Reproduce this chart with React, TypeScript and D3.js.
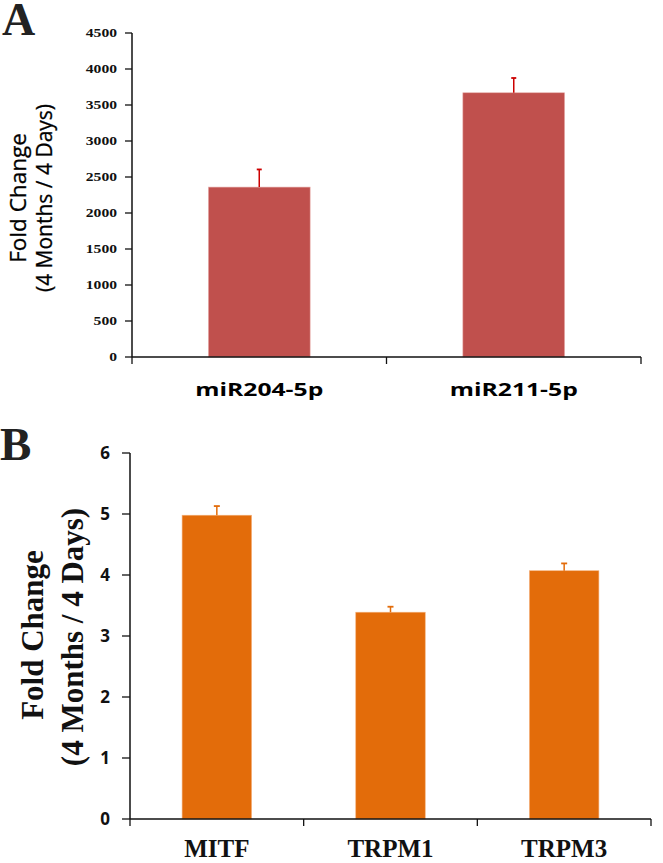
import React from "react";
import * as d3 from "d3";

const catsA = ["miR204-5p", "miR211-5p"];
const valsA = [2360, 3670];
const errA = [245, 205];
const ticksA = [0, 500, 1000, 1500, 2000, 2500, 3000, 3500, 4000, 4500];

const catsB = ["MITF", "TRPM1", "TRPM3"];
const valsB = [4.98, 3.39, 4.07];
const errB = [0.15, 0.09, 0.12];
const ticksB = [0, 1, 2, 3, 4, 5, 6];

const W = 663;
const H = 863;

export default function App() {
  const xA = d3.scaleBand<string>().domain(catsA).range([132, 641]).paddingInner(0.6).paddingOuter(0.3);
  const yA = d3.scaleLinear().domain([0, 4500]).range([357, 33]);
  const xB = d3.scaleBand<string>().domain(catsB).range([130, 651]).paddingInner(0.6).paddingOuter(0.3);
  const yB = d3.scaleLinear().domain([0, 6]).range([819, 453]);

  const stepA = (641 - 132) / catsA.length;
  const stepB = (651 - 130) / catsB.length;

  const serif = "'Liberation Serif', 'Times New Roman', serif";
  const sans = "'Open Sans', 'Liberation Sans', sans-serif";

  return (
    <svg width={W} height={H} style={{ position: "absolute", left: 0, top: 0, background: "#fff" }}>
      {/* Panel letters */}
      <text x={2} y={35} fontFamily={serif} fontWeight="bold" fontSize={46} fill="#222">A</text>
      <text x={0} y={460} fontFamily={serif} fontWeight="bold" fontSize={47} fill="#222">B</text>

      {/* ---------- Panel A ---------- */}
      {catsA.map((c, i) => {
        const x0 = xA(c)!;
        const bw = xA.bandwidth();
        const cx = x0 + bw / 2;
        return (
          <g key={c}>
            <rect x={x0} y={yA(valsA[i])} width={bw} height={yA(0) - yA(valsA[i])} fill="#C0504D" stroke="#E8B0AE" strokeWidth={0.6} />
            <line x1={cx} x2={cx} y1={yA(valsA[i])} y2={yA(valsA[i] + errA[i])} stroke="#CC0000" strokeWidth={1.5} />
            <line x1={cx - 2.5} x2={cx + 2.5} y1={yA(valsA[i] + errA[i])} y2={yA(valsA[i] + errA[i])} stroke="#CC0000" strokeWidth={1.8} />
            <text x={cx} y={396} textAnchor="middle" fontFamily={sans} fontWeight="bold" fontSize={17} textLength={128} lengthAdjust="spacingAndGlyphs" fill="#000">{c}</text>
          </g>
        );
      })}
      {/* A axes */}
      <line x1={132} x2={132} y1={yA(4500)} y2={yA(0)} stroke="#111" strokeWidth={1.5} />
      <line x1={132} x2={641} y1={yA(0)} y2={yA(0)} stroke="#111" strokeWidth={1.5} />
      {ticksA.map((t) => (
        <g key={t}>
          <line x1={125} x2={132} y1={yA(t)} y2={yA(t)} stroke="#111" strokeWidth={1.3} />
          <text x={117} y={yA(t) + 4} textAnchor="end" fontFamily={serif} fontWeight="bold" fontSize={12} textLength={String(t).length * 7.8} lengthAdjust="spacingAndGlyphs" fill="#111">{t}</text>
        </g>
      ))}
      {d3.range(catsA.length + 1).map((i) => (
        <line key={i} x1={132 + i * stepA} x2={132 + i * stepA} y1={yA(0)} y2={yA(0) + 7} stroke="#111" strokeWidth={1.3} />
      ))}
      <text transform="translate(26,198) rotate(-90)" textAnchor="middle" fontFamily={sans} fontSize={22.5} fill="#000" stroke="#000" strokeWidth={0.3}>Fold Change</text>
      <text transform="translate(52,198) rotate(-90)" textAnchor="middle" fontFamily={sans} fontSize={21} fill="#000" stroke="#000" strokeWidth={0.3}>(4 Months / 4 Days)</text>

      {/* ---------- Panel B ---------- */}
      {catsB.map((c, i) => {
        const x0 = xB(c)!;
        const bw = xB.bandwidth();
        const cx = x0 + bw / 2;
        return (
          <g key={c}>
            <rect x={x0} y={yB(valsB[i])} width={bw} height={yB(0) - yB(valsB[i])} fill="#E36C0A" stroke="#F4B07A" strokeWidth={0.6} />
            <line x1={cx} x2={cx} y1={yB(valsB[i])} y2={yB(valsB[i] + errB[i])} stroke="#E36C0A" strokeWidth={1.5} />
            <line x1={cx - 3} x2={cx + 3} y1={yB(valsB[i] + errB[i])} y2={yB(valsB[i] + errB[i])} stroke="#E36C0A" strokeWidth={1.8} />
            <text x={cx} y={857} textAnchor="middle" fontFamily={serif} fontWeight="bold" fontSize={25} fill="#111">{c}</text>
          </g>
        );
      })}
      <line x1={130} x2={130} y1={yB(6)} y2={yB(0)} stroke="#111" strokeWidth={1.5} />
      <line x1={130} x2={651} y1={yB(0)} y2={yB(0)} stroke="#111" strokeWidth={1.5} />
      {ticksB.map((t) => (
        <g key={t}>
          <line x1={122} x2={130} y1={yB(t)} y2={yB(t)} stroke="#111" strokeWidth={1.3} />
          <text x={110} y={yB(t) + 6} textAnchor="end" fontFamily={sans} fontWeight="bold" fontSize={17} fill="#111">{t}</text>
        </g>
      ))}
      {d3.range(catsB.length + 1).map((i) => (
        <line key={i} x1={130 + i * stepB} x2={130 + i * stepB} y1={yB(0)} y2={yB(0) + 7} stroke="#111" strokeWidth={1.3} />
      ))}
      <text transform="translate(43,635) rotate(-90)" textAnchor="middle" fontFamily={serif} fontWeight="bold" fontSize={31} fill="#111">Fold Change</text>
      <text transform="translate(83,637) rotate(-90)" textAnchor="middle" fontFamily={serif} fontWeight="bold" fontSize={31} fill="#111">(4 Months / 4 Days)</text>
    </svg>
  );
}
